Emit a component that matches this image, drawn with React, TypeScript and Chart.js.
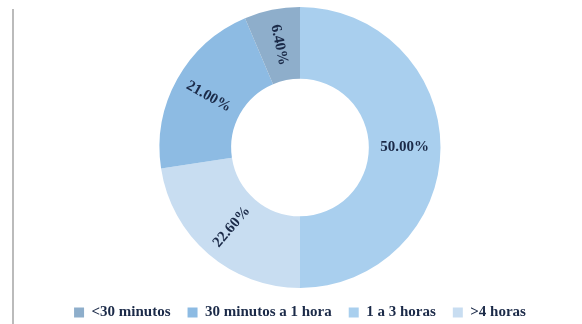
import React, { useEffect, useRef } from "react";
import { Chart, registerables } from "chart.js";

Chart.register(...registerables);

// Time spent, shares in percent (legend order)
const categories = ["<30 minutos", "30 minutos a 1 hora", "1 a 3 horas", ">4 horas"];
const shares = [6.4, 21.0, 50.0, 22.6];
const sliceColors = ["#8eaecb", "#8dbbe3", "#a9cfee", "#c8ddf1"];
// Clockwise drawing order of the slices, starting at twelve o'clock
const drawOrder = [2, 3, 1, 0];

const FONT = '"Liberation Serif", "Times New Roman", serif';

const sliceLabels = {
  id: "sliceLabels",
  afterDatasetsDraw(chart: any) {
    const { ctx } = chart;
    const meta = chart.getDatasetMeta(0);
    const values = chart.data.datasets[0].data as number[];
    ctx.save();
    ctx.font = `bold 15px ${FONT}`;
    ctx.fillStyle = "#1b2a48";
    ctx.textAlign = "center";
    ctx.textBaseline = "middle";
    meta.data.forEach((arc: any, i: number) => {
      const p = arc.getProps(["x", "y", "startAngle", "endAngle", "innerRadius", "outerRadius"], true);
      const mid = (p.startAngle + p.endAngle) / 2;
      const r = (p.innerRadius + p.outerRadius) / 2;
      const cx = p.x + Math.cos(mid) * r;
      const cy = p.y + Math.sin(mid) * r;
      let rot = Math.atan2(Math.sin(mid), Math.cos(mid));
      if (rot > Math.PI / 2) rot -= Math.PI;
      if (rot < -Math.PI / 2) rot += Math.PI;
      ctx.save();
      ctx.translate(cx, cy);
      ctx.rotate(rot);
      ctx.fillText(values[i].toFixed(2) + "%", 0, 0);
      ctx.restore();
    });
    ctx.restore();
  },
};

const frameLine = {
  id: "frameLine",
  beforeDraw(chart: any) {
    const { ctx } = chart;
    ctx.save();
    ctx.fillStyle = "#ffffff";
    ctx.fillRect(0, 0, chart.width, chart.height);
    ctx.strokeStyle = "#a4a4a4";
    ctx.lineWidth = 1.5;
    ctx.beginPath();
    ctx.moveTo(13, 9);
    ctx.lineTo(13, chart.height);
    ctx.stroke();
    ctx.restore();
  },
};

export default function App() {
  const canvasRef = useRef<HTMLCanvasElement>(null);

  useEffect(() => {
    const canvas = canvasRef.current;
    if (!canvas) return;
    const chart = new Chart(canvas, {
      type: "doughnut",
      data: {
        labels: drawOrder.map((i) => categories[i]),
        datasets: [
          {
            data: drawOrder.map((i) => shares[i]),
            backgroundColor: drawOrder.map((i) => sliceColors[i]),
            borderWidth: 0,
          },
        ],
      },
      options: {
        responsive: false,
        animation: false,
        cutout: "49%",
        layout: { padding: { top: 7, left: 18, right: 0, bottom: -6 } },
        plugins: {
          tooltip: { enabled: false },
          legend: {
            position: "bottom",
            labels: {
              boxWidth: 10,
              boxHeight: 10,
              padding: 17,
              color: "#1b2a48",
              font: { family: FONT, size: 15, weight: "bold" },
              sort: (a: any, b: any) => drawOrder[a.index] - drawOrder[b.index],
            },
          },
        },
      },
      plugins: [frameLine, sliceLabels],
    });
    return () => chart.destroy();
  }, []);

  return (
    <div style={{ position: "absolute", left: 0, top: 0, width: 582, height: 324 }}>
      <canvas ref={canvasRef} width={582} height={324} />
    </div>
  );
}
